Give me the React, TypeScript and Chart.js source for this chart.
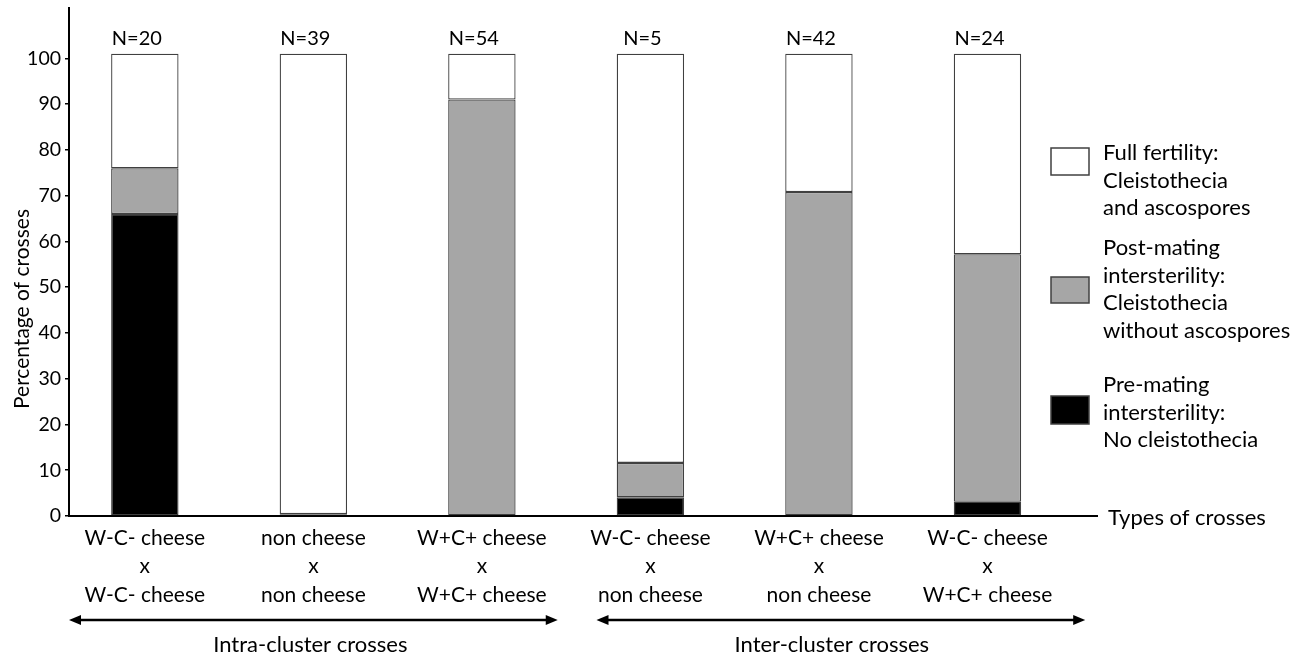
import React, { useEffect, useRef } from 'react';
import { Chart, registerables } from 'chart.js';

Chart.register(...registerables);

const FONT = 'Lato, "Open Sans", sans-serif';

// ---- data ----
const parentA = ['W-C- cheese', 'non cheese', 'W+C+ cheese', 'W-C- cheese', 'W+C+ cheese', 'W-C- cheese'];
const parentB = ['W-C- cheese', 'non cheese', 'W+C+ cheese', 'non cheese', 'non cheese', 'W+C+ cheese'];
const sampleSizes = [20, 39, 54, 5, 42, 24];
const preMating = [66, 0, 0, 4.1, 0, 3.1];
const postMating = [10, 0.4, 91, 7.5, 70.8, 54.1];
const fullFertility = [25, 100.6, 10, 89.4, 30.2, 43.8];
const yTickValues = [0, 10, 20, 30, 40, 50, 60, 70, 80, 90, 100];
const groupLabels = ['Intra-cluster crosses', 'Inter-cluster crosses'];
const legendFull = ['Full fertility:', 'Cleistothecia', 'and ascospores'];
const legendPost = ['Post-mating', 'intersterility:', 'Cleistothecia', 'without ascospores'];
const legendPre = ['Pre-mating', 'intersterility:', 'No cleistothecia'];
const xAxisTitle = 'Types of crosses';
const yAxisTitle = 'Percentage of crosses';

const COLOR_PRE = '#000000';
const COLOR_POST = '#a6a6a6';
const COLOR_FULL = '#ffffff';
const EDGE = '#404040';

export default function App() {
  const ref = useRef<HTMLCanvasElement | null>(null);

  useEffect(() => {
    if (!ref.current) return;

    const arrow = (ctx: CanvasRenderingContext2D, x1: number, x2: number, y: number) => {
      const hl = 12, hw = 5;
      ctx.beginPath();
      ctx.lineWidth = 2.5;
      ctx.strokeStyle = '#000';
      ctx.moveTo(x1 + hl - 2, y);
      ctx.lineTo(x2 - hl + 2, y);
      ctx.stroke();
      ctx.beginPath();
      ctx.moveTo(x1, y);
      ctx.lineTo(x1 + hl, y - hw);
      ctx.lineTo(x1 + hl, y + hw);
      ctx.closePath();
      ctx.fill();
      ctx.beginPath();
      ctx.moveTo(x2, y);
      ctx.lineTo(x2 - hl, y - hw);
      ctx.lineTo(x2 - hl, y + hw);
      ctx.closePath();
      ctx.fill();
    };

    const overlay = {
      id: 'overlay',
      afterDraw(chart: any) {
        const ctx: CanvasRenderingContext2D = chart.ctx;
        const xs = chart.scales.x;
        const ys = chart.scales.y;
        ctx.save();
        ctx.fillStyle = '#000';
        ctx.font = `20px ${FONT}`;
        ctx.textAlign = 'center';
        ctx.textBaseline = 'middle';
        // N labels
        sampleSizes.forEach((n, i) => {
          const total = preMating[i] + postMating[i] + fullFertility[i];
          ctx.fillText(`N=${n}`, xs.getPixelForValue(i) - 8, ys.getPixelForValue(total) - 15);
        });
        // y title
        ctx.save();
        ctx.translate(22, 309);
        ctx.rotate(-Math.PI / 2);
        ctx.font = `21px ${FONT}`;
        ctx.fillText(yAxisTitle, 0, 0);
        ctx.restore();
        // x title
        ctx.font = `22px ${FONT}`;
        ctx.textAlign = 'left';
        ctx.fillText(xAxisTitle, xs.right + 11, ys.getPixelForValue(0) + 2);
        // group arrows
        const ay = 620;
        arrow(ctx, xs.getPixelForValue(-0.45), xs.getPixelForValue(2.45), ay);
        arrow(ctx, xs.getPixelForValue(2.68), xs.getPixelForValue(5.58), ay);
        ctx.textAlign = 'center';
        ctx.fillText(groupLabels[0], (xs.getPixelForValue(-0.45) + xs.getPixelForValue(2.45)) / 2 - 3, 645);
        ctx.fillText(groupLabels[1], (xs.getPixelForValue(2.68) + xs.getPixelForValue(5.58)) / 2 - 9, 645);
        // legend
        const items = [
          { color: COLOR_FULL, boxTop: 148, boxH: 27, lines: legendFull, first: 153 },
          { color: COLOR_POST, boxTop: 277, boxH: 26, lines: legendPost, first: 248 },
          { color: COLOR_PRE, boxTop: 396, boxH: 28, lines: legendPre, first: 385 },
        ];
        items.forEach((it) => {
          ctx.fillStyle = it.color;
          ctx.fillRect(1051, it.boxTop, 38, it.boxH);
          ctx.lineWidth = 1.5;
          ctx.strokeStyle = EDGE;
          ctx.strokeRect(1051, it.boxTop, 38, it.boxH);
          ctx.fillStyle = '#000';
          ctx.textAlign = 'left';
          it.lines.forEach((t, k) => ctx.fillText(t, 1103, it.first + k * 27.7));
        });
        ctx.restore();
      },
    };

    const mk = (label: string, vals: number[], color: string) => ({
      label,
      data: vals.map((v, i) => ({ x: i, y: v })),
      backgroundColor: color,
      borderColor: EDGE,
      borderWidth: 1.3,
      borderSkipped: false as const,
    });

    const chart = new Chart(ref.current, {
      type: 'bar',
      data: {
        datasets: [
          mk('Pre-mating intersterility', preMating, COLOR_PRE),
          mk('Post-mating intersterility', postMating, COLOR_POST),
          mk('Full fertility', fullFertility, COLOR_FULL),
        ] as any,
      },
      options: {
        animation: false,
        responsive: true,
        maintainAspectRatio: false,
        layout: { padding: { left: 0, top: 8, right: 204, bottom: 0 } },
        plugins: { legend: { display: false }, tooltip: { enabled: false } },
        datasets: { bar: { categoryPercentage: 1, barPercentage: 0.4 } },
        scales: {
          x: {
            type: 'linear',
            min: -0.45,
            max: 5.65,
            stacked: true,
            offset: false,
            grid: { display: false },
            border: { display: true, color: '#000', width: 2 },
            afterBuildTicks: (a: any) => {
              a.ticks = parentA.map((_, i) => ({ value: i }));
            },
            afterFit: (s: any) => {
              s.height = 141;
              s.paddingLeft = 0;
              s.paddingRight = 0;
            },
            ticks: {
              autoSkip: false,
              maxRotation: 0,
              minRotation: 0,
              padding: 0,
              color: '#000',
              font: { family: FONT, size: 21, lineHeight: 1.35 },
              callback: (_v: any, i: number) => [parentA[i], 'x', parentB[i]],
            },
          },
          y: {
            stacked: true,
            min: 0,
            max: 111,
            afterBuildTicks: (a: any) => {
              a.ticks = yTickValues.map((v) => ({ value: v }));
            },
            afterFit: (s: any) => {
              s.width = 69;
              s.paddingTop = 0;
              s.paddingBottom = 0;
            },
            grid: { drawOnChartArea: false, tickLength: 4, color: '#000', lineWidth: 1.5 },
            border: { display: true, color: '#000', width: 2 },
            ticks: { padding: 4, color: '#000', font: { family: FONT, size: 19.5 } },
          },
        },
      } as any,
      plugins: [overlay],
    });
    return () => chart.destroy();
  }, []);

  return (
    <div style={{ position: 'fixed', left: 0, top: 0, width: 1301, height: 657, background: '#fff' }}>
      <canvas ref={ref} />
    </div>
  );
}
